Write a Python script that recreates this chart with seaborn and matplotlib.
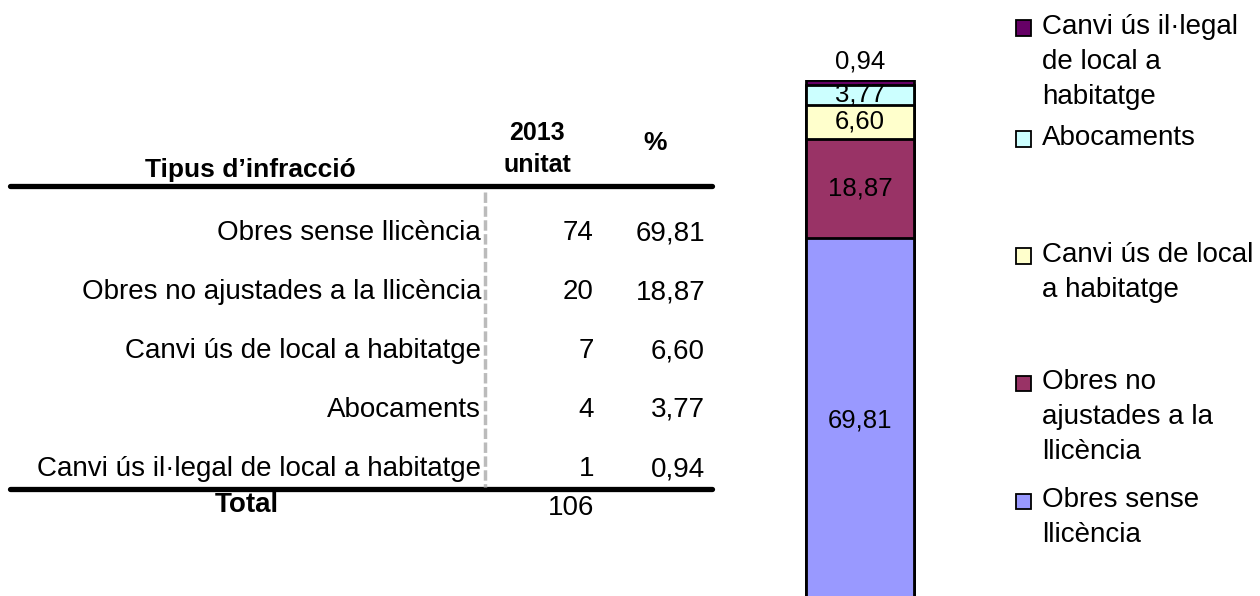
import matplotlib
matplotlib.use("Agg")
import matplotlib.pyplot as plt
import seaborn as sns
from matplotlib.lines import Line2D
from matplotlib.patches import Rectangle

# dades de la taula / gràfic (ordre de la taula)
categories = ["Obres sense llicència", "Obres no ajustades a la llicència",
              "Canvi ús de local a habitatge", "Abocaments",
              "Canvi ús il·legal de local a habitatge"]
units_2013 = [74, 20, 7, 4, 1]
percents = [69.81, 18.87, 6.60, 3.77, 0.94]
total_units = 106
legend_labels = ["Obres sense\nllicència", "Obres no\najustades a la\nllicència",
                 "Canvi ús de local\na habitatge", "Abocaments",
                 "Canvi ús il·legal\nde local a\nhabitatge"]
colors = ["#9999FF", "#993366", "#FFFFCC", "#CCFFFF", "#660066"]

sns.set_style("white")
plt.rcParams['font.family'] = ['Liberation Sans', 'DejaVu Sans']
plt.rcParams['text.color'] = 'black'

W, H = 1260, 596
fig = plt.figure(figsize=(12.6, 5.96), dpi=100)


def fx(x):
    return x / W


def fy(y):
    return 1 - y / H


def fmt(v):
    return f"{v:.2f}".replace(".", ",")


# --- taula ---
fig.text(fx(250), fy(170), "Tipus d’infracció", ha="center", va="center",
         fontsize=19, fontweight="bold")
fig.text(fx(537), fy(149), "2013\nunitat", ha="center", va="center",
         fontsize=18, fontweight="bold", linespacing=1.45)
fig.text(fx(655), fy(143), "%", ha="center", va="center",
         fontsize=19, fontweight="bold")

fig.add_artist(Line2D([fx(10), fx(712)], [fy(186), fy(186)], color="black", lw=3.8))
fig.add_artist(Line2D([fx(10), fx(712)], [fy(489), fy(489)], color="black", lw=3.8))
fig.add_artist(Line2D([fx(485), fx(485)], [fy(192), fy(487)], color="#BBBBBB",
                      lw=2.5, linestyle=(0, (3, 1))))

row_y0, row_step = 233, 59
for i, (cat, u, p) in enumerate(zip(categories, units_2013, percents)):
    y = row_y0 + i * row_step
    fig.text(fx(481), fy(y), cat, ha="right", va="center", fontsize=20)
    fig.text(fx(594), fy(y), str(u), ha="right", va="center", fontsize=20)
    fig.text(fx(705), fy(y), fmt(p), ha="right", va="center", fontsize=20)

fig.text(fx(247), fy(505), "Total", ha="center", va="center", fontsize=20, fontweight="bold")
fig.text(fx(594), fy(508), str(total_units), ha="right", va="center", fontsize=20)

# --- barra apilada ---
bar_px = 108
ax = fig.add_axes([fx(806 - 0.1 * bar_px), 0, 1.2 * bar_px / W, (H - 80) / H])
cum = []
s = 0
for p in percents:
    s += p
    cum.append(s)

# dibuixar de dalt a baix perquè cada segment quedi damunt de l'anterior
for c, col in reversed(list(zip(cum, colors))):
    sns.barplot(x=["2013"], y=[c], color=col, edgecolor="black", linewidth=2,
                width=1, saturation=1, ax=ax)

ax.set_xlim(-0.6, 0.6)
ax.set_ylim(100 - (H - 80) / 5.233, 100)
ax.axis("off")

bottom = 0
for i, p in enumerate(percents):
    if i == len(percents) - 1:
        ax.annotate(fmt(p), (0, bottom + p), xytext=(0, 5), textcoords="offset points",
                    ha="center", va="bottom", fontsize=18.5, annotation_clip=False)
    else:
        ax.text(0, bottom + p / 2, fmt(p), ha="center", va="center", fontsize=18.5)
    bottom += p

# --- llegenda ---
leg_y = [501, 383, 256, 139, 28]   # centre vertical de cada quadret (px)
for lab, col, y in zip(legend_labels, colors, leg_y):
    fig.add_artist(Rectangle((fx(1016), fy(y + 7.5)), 15 / W, 15 / H, facecolor=col,
                             edgecolor="black", lw=1.3, transform=fig.transFigure))
    fig.text(fx(1042), fy(y - 14), lab, ha="left", va="top", fontsize=20,
             linespacing=1.45)

fig.savefig("out.png", dpi=100)
